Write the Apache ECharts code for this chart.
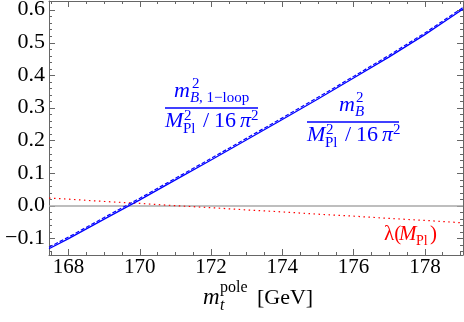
<!DOCTYPE html>
<html><head><meta charset="utf-8">
<script src="https://cdn.jsdelivr.net/npm/echarts@6/dist/echarts.min.js"></script>
<style>html,body{margin:0;padding:0;background:#fff}#c{width:464px;height:322px}</style>
</head><body><div id="c"></div>
<script>
// ---- data ----
const mtop = [167.45,168,169,170,171,172,173,174,175,176,177,178,179,179.07];
const mB1loop = [-0.131,-0.100,-0.040,0.019,0.080,0.141,0.203,0.265,0.328,0.392,0.457,0.525,0.598,0.603];
const mBfull  = [-0.126,-0.095,-0.035,0.024,0.085,0.146,0.208,0.270,0.333,0.397,0.462,0.530,0.603,0.608];
const lambdaPl = [0.0245,0.021,0.014,0.008,0.001,-0.005,-0.012,-0.018,-0.025,-0.031,-0.038,-0.044,-0.051,-0.051];
const xTicks = [168,170,172,174,176,178];
const xTickLabels = ['168','170','172','174','176','178'];
const yTicks = [-0.1,0,0.1,0.2,0.3,0.4,0.5,0.6];
const yTickLabels = ['\u22120.1','0.0','0.1','0.2','0.3','0.4','0.5','0.6'];
const xMin = 167.45, xMax = 179.07, yMin = -0.15, yMax = 0.628;

const xMinor = []; for (let v = 167.5; v <= 179.0001; v += 0.5) xMinor.push(+v.toFixed(2));
const yMinor = []; for (let v = -0.14; v <= 0.62; v += 0.02) yMinor.push(+v.toFixed(2));

const FONT = '"Liberation Serif", "Times New Roman", serif';
const frame = '#666';
const pair = (xs, ys) => xs.map((x, i) => [x, ys[i]]);

function mkX(pos, grid, ticks, len) {
  return {type:'value', gridIndex:grid, position:pos, min:xMin, max:xMax,
    axisLine:{show:grid===0, onZero:false, lineStyle:{color:frame, width:1}},
    axisTick:{show:true, inside:true, length:len, customValues:ticks, lineStyle:{color:frame, width:1}},
    axisLabel:{show:false}, splitLine:{show:false}};
}
function mkY(pos, grid, ticks, len) {
  return {type:'value', gridIndex:grid, position:pos, min:yMin, max:yMax,
    axisLine:{show:grid===0, onZero:false, lineStyle:{color:frame, width:1}},
    axisTick:{show:true, inside:true, length:len, customValues:ticks, lineStyle:{color:frame, width:1}},
    axisLabel:{show:false}, splitLine:{show:false}};
}

function T(x, bl, text, size, italic, color, align) {
  return {type:'text', z:100, style:{x:x, y:bl - 0.3375*size, text:text, fill:color,
    font:(italic ? 'italic ' : '') + size + 'px ' + FONT,
    align:align || 'left', verticalAlign:'middle', textAlign:align || 'left', textVerticalAlign:'middle'}};
}
function bar(x1, x2, y, color) {
  return {type:'line', z:100, shape:{x1:x1, y1:y, x2:x2, y2:y}, style:{stroke:color, lineWidth:1.5}};
}
const B = '#0000ff', R = '#ff0000';
function fraction(num, x0, x1, barY) {
  const d = [];
  const nb = barY - 9, db = barY + 21;
  num.forEach(p => d.push(T(p[0], nb + p[1], p[2], p[3], p[4], B)));
  d.push(bar(x0, x1, barY, B));
  d.push(T(x0, db, 'M', 22, true, B));
  d.push(T(x0 + 19, db - 8, '2', 15, false, B));
  d.push(T(x0 + 18, db + 5, 'Pl', 15, false, B));
  d.push(T(x0 + 38, db, '/', 22, false, B));
  d.push(T(x0 + 49, db, '16', 22, false, B));
  d.push(T(x0 + 75, db, '\u03c0', 22, true, B));
  d.push(T(x0 + 86, db - 8, '2', 15, false, B));
  return d;
}

const graphics = [].concat(
  fraction([[174,0,'m',22,true],[192,-10,'2',15,false],[190,4,'B',15,true],[199,4,', 1\u2212loop',15,false]], 165, 258, 108),
  fraction([[339,0,'m',22,true],[356,-10,'2',15,false],[355,4,'B',15,true]], 307, 399, 122),
  [
    T(384, 242, '\u03bb(', 21, false, R),
    T(399, 242, 'M', 21, true, R),
    T(416, 246, 'Pl', 14, false, R),
    T(430, 242, ')', 21, false, R),
    T(203, 306, 'm', 23, true, '#000'),
    T(220, 293, 'pole', 16, false, '#000'),
    T(220, 311, 't', 16, true, '#000'),
    T(257, 306, '[GeV]', 22, false, '#000')
  ]
);

const chart = echarts.init(document.getElementById('c'), null, {renderer:'canvas'});
chart.setOption({
  animation:false,
  backgroundColor:'#fff',
  grid:[{left:49, right:1, top:1, bottom:67, containLabel:false},
        {left:49, right:1, top:1, bottom:67, containLabel:false}],
  xAxis:[mkX('bottom',0,xTicks,6), mkX('top',0,xTicks,6),
         mkX('bottom',1,xMinor,3), mkX('top',1,xMinor,3)],
  yAxis:[mkY('left',0,yTicks,6), mkY('right',0,yTicks,6),
         mkY('left',1,yMinor,3), mkY('right',1,yMinor,3)],
  series:[
    {type:'line', xAxisIndex:0, yAxisIndex:0, data:[[xMin,0],[xMax,0]], symbol:'none',
      lineStyle:{color:'#a8a8a8', width:1.5}, z:1},
    {type:'line', xAxisIndex:0, yAxisIndex:0, data:pair(mtop, lambdaPl), symbol:'none',
      lineStyle:{color:R, width:1.2, type:[1.5,3.5]}, z:2},
    {type:'line', xAxisIndex:0, yAxisIndex:0, data:pair(mtop, mB1loop), symbol:'none',
      lineStyle:{color:B, width:1.3}, z:3},
    {type:'line', xAxisIndex:0, yAxisIndex:0, data:pair(mtop, mBfull), symbol:'none',
      lineStyle:{color:B, width:1.2, type:[4,2]}, z:4}
  ]
});

// tick labels placed through the axes' own scales
const tickTexts = [];
xTicks.forEach((v, i) => {
  const p = chart.convertToPixel({xAxisIndex:0, yAxisIndex:0}, [v, yMin]);
  tickTexts.push(T(p[0], p[1] + 20, xTickLabels[i], 21, false, '#000', 'center'));
});
yTicks.forEach((v, i) => {
  const p = chart.convertToPixel({xAxisIndex:0, yAxisIndex:0}, [xMin, v]);
  tickTexts.push(T(p[0] - 4, p[1] + 7, yTickLabels[i], 22, false, '#000', 'right'));
});
chart.setOption({graphic: graphics.concat(tickTexts)});
</script></body></html>
